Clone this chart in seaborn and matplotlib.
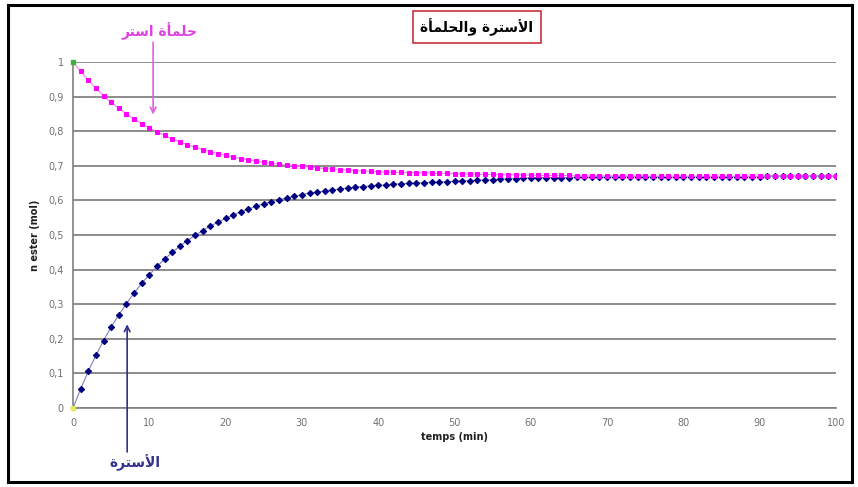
import numpy as np
import pandas as pd
import matplotlib
matplotlib.use("Agg")
import matplotlib.pyplot as plt
import seaborn as sns
from matplotlib.patches import Rectangle

# temps (min), un point par minute
temps = list(range(0, 101))

# n ester (mol) - courbe de l'esterification
n_ester = [
    0.000, 0.055, 0.106, 0.152, 0.195, 0.234, 0.269, 0.302, 0.332, 0.360,
    0.385, 0.409, 0.430, 0.450, 0.468, 0.484, 0.499, 0.513, 0.526, 0.537,
    0.548, 0.558, 0.567, 0.575, 0.583, 0.590, 0.596, 0.602, 0.607, 0.612,
    0.617, 0.621, 0.624, 0.627, 0.630, 0.633, 0.636, 0.638, 0.640, 0.642,
    0.644, 0.645, 0.647, 0.648, 0.649, 0.650, 0.651, 0.652, 0.653, 0.654,
    0.655, 0.656, 0.657, 0.658, 0.659, 0.660, 0.661, 0.662, 0.663, 0.664,
    0.665, 0.666, 0.666, 0.666, 0.666, 0.666, 0.667, 0.667, 0.667, 0.667,
    0.667, 0.668, 0.668, 0.668, 0.668, 0.668, 0.668, 0.668, 0.668, 0.668,
    0.668, 0.669, 0.669, 0.669, 0.669, 0.669, 0.669, 0.669, 0.669, 0.669,
    0.669, 0.670, 0.670, 0.670, 0.670, 0.670, 0.670, 0.670, 0.670, 0.670,
    0.670,
]

# n ester (mol) - courbe de l'hydrolyse
n_hydro = [
    1.000, 0.973, 0.947, 0.924, 0.903, 0.883, 0.866, 0.850, 0.835, 0.822,
    0.810, 0.798, 0.788, 0.778, 0.769, 0.761, 0.754, 0.747, 0.741, 0.735,
    0.730, 0.725, 0.721, 0.717, 0.714, 0.710, 0.707, 0.705, 0.702, 0.700,
    0.698, 0.696, 0.694, 0.692, 0.691, 0.689, 0.688, 0.686, 0.685, 0.684,
    0.683, 0.682, 0.682, 0.681, 0.680, 0.680, 0.679, 0.679, 0.678, 0.678,
    0.677, 0.677, 0.676, 0.676, 0.675, 0.675, 0.674, 0.674, 0.674, 0.673,
    0.673, 0.672, 0.672, 0.672, 0.672, 0.672, 0.671, 0.671, 0.671, 0.671,
    0.671, 0.671, 0.671, 0.671, 0.671, 0.671, 0.670, 0.670, 0.670, 0.670,
    0.670, 0.670, 0.670, 0.670, 0.670, 0.670, 0.670, 0.670, 0.670, 0.670,
    0.670, 0.670, 0.670, 0.670, 0.670, 0.670, 0.670, 0.670, 0.670, 0.670,
    0.670,
]

x_ticks = [0, 10, 20, 30, 40, 50, 60, 70, 80, 90, 100]
y_ticks = [0, 0.1, 0.2, 0.3, 0.4, 0.5, 0.6, 0.7, 0.8, 0.9, 1]
y_labels = ["0", "0,1", "0,2", "0,3", "0,4", "0,5", "0,6", "0,7", "0,8", "0,9", "1"]

# arabe deja mis en forme (formes de presentation, ordre visuel)
titre = "\uFE93\uFE84\uFEE4\uFEE0\uFEA4\uFEDF\uFE8D\uFEED \uFE93\uFEAE\uFE98\uFEB3\uFEF7\uFE8D"  # الأسترة والحلمأة
lbl_hydro = "\uFEAE\uFE98\uFEB3\uFE8D \uFE93\uFE84\uFEE4\uFEE0\uFEA3"  # حلمأة استر
lbl_ester = "\uFE93\uFEAE\uFE98\uFEB3\uFEF7\uFE8D"  # الأسترة

df = pd.DataFrame({"temps": temps, "ester": n_ester, "hydro": n_hydro})

sns.set_style("white")
plt.rcParams['font.family'] = ['DejaVu Sans']

fig = plt.figure(figsize=(8.58, 4.87), dpi=100)
ax = fig.add_axes([73 / 858, 1 - 408 / 487, (836 - 73) / 858, (408 - 62) / 487])

sns.lineplot(data=df, x="temps", y="ester", ax=ax, color="#8080c0", lw=0.8,
             marker="D", markersize=3.2, markerfacecolor="#000080",
             markeredgecolor="#000080", zorder=3)
sns.lineplot(data=df, x="temps", y="hydro", ax=ax, color="#f080f0", lw=0.8,
             marker="s", markersize=3.3, markerfacecolor="#ff00ff",
             markeredgecolor="#ff00ff", zorder=3)
# premiers points
ax.plot(temps[0], n_hydro[0], "s", color="#40b040", ms=3.5, zorder=4, clip_on=False)
ax.plot(temps[0], n_ester[0], "o", color="#e8e860", ms=3.5, zorder=4, clip_on=False)

ax.set_xlim(0, 100)
ax.set_ylim(0, 1)
ax.set_xticks(x_ticks)
ax.set_yticks(y_ticks)
ax.set_yticklabels(y_labels)
ax.yaxis.grid(True, color="#8c8c8c", lw=1.4)
ax.xaxis.grid(False)
ax.tick_params(axis="both", labelsize=7, colors="#707070", length=3, width=1,
               direction="out")
ax.tick_params(axis="x", pad=4)
for s in ["top", "right"]:
    ax.spines[s].set_visible(False)
for s in ["left", "bottom"]:
    ax.spines[s].set_color("#808080")
    ax.spines[s].set_linewidth(1.2)

ax.set_xlabel("temps (min)", fontsize=7, fontweight="bold", color="#202020", labelpad=3)
ax.set_ylabel("n ester (mol)", fontsize=7, fontweight="bold", color="#202020", labelpad=6)

# titre encadre
fig.text(477 / 858, 1 - 27 / 487, titre, ha="center", va="center", fontsize=10,
         fontweight="bold", color="black",
         bbox=dict(boxstyle="square,pad=0.5", fc="white", ec="#d03040", lw=1.2))

# etiquettes avec fleches
ax.annotate("", xy=(10.5, 0.84), xytext=(10.5, 1.065), xycoords="data",
            arrowprops=dict(arrowstyle="->", color="#e060e0", lw=1.2),
            annotation_clip=False)
fig.text(160 / 858, 1 - 31 / 487, lbl_hydro, ha="center", va="center",
         fontsize=10, fontweight="bold", color="#e040e0")
ax.annotate("", xy=(7.1, 0.25), xytext=(7.1, -0.135), xycoords="data",
            arrowprops=dict(arrowstyle="->", color="#303090", lw=1.2),
            annotation_clip=False)
fig.text(135 / 858, 1 - 463 / 487, lbl_ester, ha="center", va="center",
         fontsize=10, fontweight="bold", color="#303090")

# cadre noir autour de l'image
fig.patches.append(Rectangle((8 / 858, 5 / 487), 844 / 858, 477 / 487,
                             transform=fig.transFigure, fill=False,
                             ec="black", lw=2.2))

fig.savefig("out.png", dpi=100)
